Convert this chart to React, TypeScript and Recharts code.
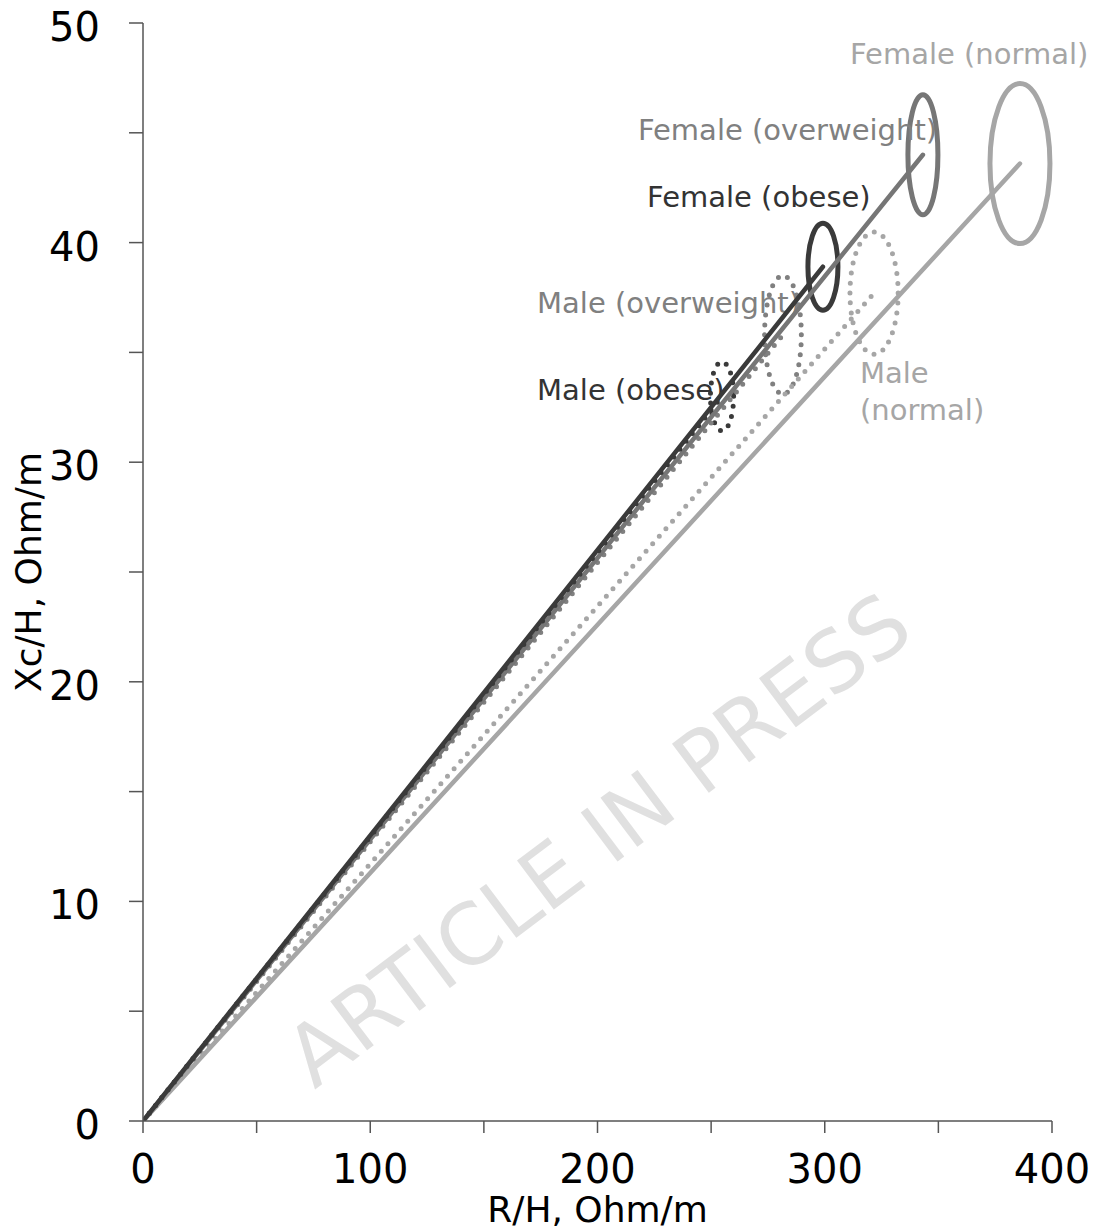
import * as R from 'recharts';

const { ComposedChart, Line, XAxis, YAxis } = R;

// groups, in drawing order of the reference
const groupNames = ['Female (normal)', 'Female (overweight)', 'Female (obese)', 'Male (normal)', 'Male (overweight)', 'Male (obese)'];
// tolerance ellipse centres (mean vector end points)
const centerR = [385.9, 343.2, 299.2, 321.7, 281.6, 254.8];
const centerXc = [43.6, 44.0, 38.9, 37.7, 35.8, 33.0];
// ellipse half-widths, in axis units
const radiusR = [13.2, 6.6, 6.6, 10.6, 8.1, 5.1];
const radiusXc = [3.64, 2.73, 1.98, 2.78, 2.69, 1.57];

const xTicks = [0, 50, 100, 150, 200, 250, 300, 350, 400];
const yTicks = [0, 5, 10, 15, 20, 25, 30, 35, 40, 45, 50];

// label text, anchored at (R, Xc) of the start of the first line
const labelLines = [['Female (normal)'], ['Female (overweight)'], ['Female (obese)'], ['Male', '(normal)'], ['Male (overweight)'], ['Male (obese)']];
const labelR = [311.1, 217.8, 221.8, 315.5, 173.4, 173.4];
const labelXc = [48.13, 44.67, 41.62, 33.61, 36.79, 32.83];

const lineColors = ['#a6a6a6', '#767676', '#3a3a3a', '#a6a6a6', '#808080', '#3a3a3a'];
const labelColors = ['#a6a6a6', '#808080', '#333333', '#a6a6a6', '#808080', '#333333'];
const dotted = [false, false, false, true, true, true];
const drawOrder = [0, 3, 4, 1, 5, 2];

const FONT = '"DejaVu Sans", Verdana, sans-serif';
const AXIS = '#555555';

function vectorData(i: number) {
  return [
    { x: 0, y: 0 },
    { x: centerR[i], y: centerXc[i] },
  ];
}

function useScales() {
  const anyR = R as any;
  const area = anyR.usePlotArea ? anyR.usePlotArea() : anyR.useOffset ? anyR.useOffset() : null;
  const xd = anyR.useXAxisDomain ? anyR.useXAxisDomain() : null;
  const yd = anyR.useYAxisDomain ? anyR.useYAxisDomain() : null;
  if (!area) return null;
  const xDom = xd && xd.length === 2 ? xd : [0, 400];
  const yDom = yd && yd.length === 2 ? yd : [0, 50];
  const left = area.x != null ? area.x : area.left;
  const top = area.y != null ? area.y : area.top;
  const sx = (v: number) => left + ((v - xDom[0]) / (xDom[1] - xDom[0])) * area.width;
  const sy = (v: number) => top + area.height - ((v - yDom[0]) / (yDom[1] - yDom[0])) * area.height;
  return { sx, sy, left, top, width: area.width, height: area.height };
}

function Overlay() {
  const s = useScales();
  if (!s) return null;
  const { sx, sy, left, top, width, height } = s;
  const wx = left + width * 0.52;
  const wy = top + height * 0.765;
  return (
    <g>
      <text
        x={wx}
        y={wy}
        transform={`rotate(-37 ${wx} ${wy})`}
        textAnchor="middle"
        fontFamily={FONT}
        fontSize={84}
        fill="#e0e0e0"
      >
        ARTICLE IN PRESS
      </text>
      {groupNames.map((name, i) => (
        <ellipse
          key={name}
          cx={sx(centerR[i])}
          cy={sy(centerXc[i])}
          rx={sx(centerR[i] + radiusR[i]) - sx(centerR[i])}
          ry={sy(centerXc[i]) - sy(centerXc[i] + radiusXc[i])}
          fill="none"
          stroke={lineColors[i]}
          strokeWidth={5}
          strokeDasharray={dotted[i] ? '0 10' : undefined}
          strokeLinecap="round"
        />
      ))}
      {labelLines.map((lines, i) => (
        <text key={i} x={sx(labelR[i])} y={sy(labelXc[i])} fontFamily={FONT} fontSize={29} fill={labelColors[i]}>
          {lines.map((t, j) => (
            <tspan key={j} x={sx(labelR[i])} dy={j === 0 ? 0 : 37}>
              {t}
            </tspan>
          ))}
        </text>
      ))}
    </g>
  );
}

function YTick(props: any) {
  const { x, y, payload } = props;
  if (payload.value % 10 !== 0) return <g />;
  return (
    <text x={x} y={y + 4} textAnchor="end" dominantBaseline="central" fontFamily={FONT} fontSize={40} fill="#000">
      {payload.value}
    </text>
  );
}

function XTick(props: any) {
  const { x, y, payload } = props;
  if (payload.value % 100 !== 0) return <g />;
  return (
    <text x={x} y={y} dy="0.71em" textAnchor="middle" fontFamily={FONT} fontSize={40} fill="#000">
      {payload.value}
    </text>
  );
}

export default function App() {
  return (
    <div style={{ width: 1089, height: 1222, background: '#fff' }}>
      <style>{'.recharts-surface { overflow: visible; }'}</style>
      <ComposedChart width={1089} height={1222} margin={{ top: 15, right: 45, bottom: 0, left: 0 }}>
        <XAxis
          dataKey="x"
          type="number"
          domain={[0, 400]}
          ticks={xTicks}
          interval={0}
          height={109}
          tickSize={12}
          tickMargin={22}
          tick={<XTick />}
          axisLine={{ stroke: AXIS, strokeWidth: 1.5 }}
          tickLine={{ stroke: AXIS, strokeWidth: 1.5 }}
          allowDataOverflow
          label={{ value: 'R/H, Ohm/m', position: 'insideBottom', offset: 8, fontSize: 36, fill: '#000', fontFamily: FONT }}
        />
        <YAxis
          type="number"
          domain={[0, 50]}
          ticks={yTicks}
          interval={0}
          width={135}
          tickSize={14}
          tickMargin={29}
          tick={<YTick />}
          axisLine={{ stroke: AXIS, strokeWidth: 1.5 }}
          tickLine={{ stroke: AXIS, strokeWidth: 1.5 }}
          allowDataOverflow
          label={{
            value: 'Xc/H, Ohm/m',
            angle: -90,
            position: 'insideLeft',
            offset: 20,
            fontSize: 36,
            fill: '#000',
            fontFamily: FONT,
            style: { textAnchor: 'middle' },
          }}
        />
        {drawOrder.map((i) => (
          <Line
            key={groupNames[i]}
            data={vectorData(i)}
            dataKey="y"
            type="linear"
            stroke={lineColors[i]}
            strokeWidth={dotted[i] ? 5 : 4.5}
            strokeDasharray={dotted[i] ? '0 10' : undefined}
            strokeLinecap="round"
            dot={false}
            activeDot={false}
            isAnimationActive={false}
          />
        ))}
        <Overlay />
      </ComposedChart>
    </div>
  );
}
